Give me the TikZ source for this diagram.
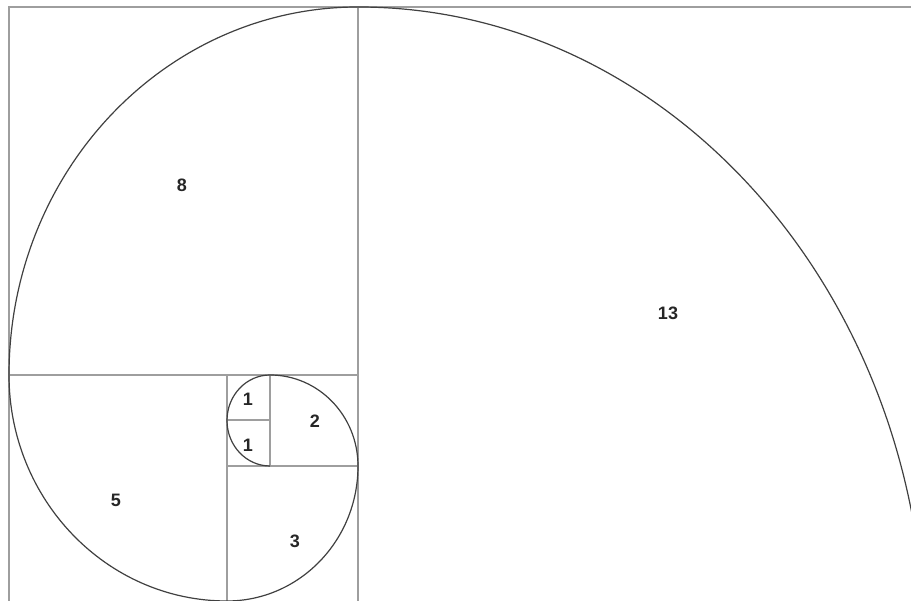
\documentclass[tikz,border=0pt]{standalone}
\usepackage{fontspec}
\setmainfont{Liberation Sans}
\begin{document}
\begin{tikzpicture}[x=1pt,y=1pt,
  gridline/.style={draw=black!38, line width=1.4pt},
  spiral/.style={draw=black!75, line width=1.2pt},
  num/.style={font=\fontsize{18}{18}\selectfont\bfseries, text=black!85, inner sep=0pt}]
\useasboundingbox (0,0) rectangle (911,601);
\fill[white] (0,0) rectangle (911,601);
\clip (0,0) rectangle (911,601);
% frame and squares
\draw[gridline] (9,0) -- (9,594) -- (911,594);
\draw[gridline] (9,226) -- (358,226);
\draw[gridline] (358,594) -- (358,0);
\draw[gridline] (227,226) -- (227,0);
\draw[gridline] (227,135) -- (358,135);
\draw[gridline] (270,226) -- (270,135);
\draw[gridline] (227,181) -- (270,181);
% spiral
\draw[spiral] (270,135)
  arc[start angle=270, end angle=90, x radius=43pt, y radius=45.5pt]
  arc[start angle=90, end angle=0, x radius=88pt, y radius=91pt]
  arc[start angle=0, end angle=-90, x radius=131pt, y radius=135pt]
  arc[start angle=270, end angle=180, x radius=218pt, y radius=226pt]
  arc[start angle=180, end angle=90, x radius=349pt, y radius=368pt]
  arc[start angle=90, end angle=0, x radius=567pt, y radius=645pt];
% labels
\node[num] (n8) at (182,416) {8};
\node[num] (n13) at (668,288) {13};
\node[num] (n5) at (116,101) {5};
\node[num] (n3) at (295,60) {3};
\node[num] (n2) at (315,180) {2};
\node[num] (n1a) at (248,202) {1};
\node[num] (n1b) at (248,156) {1};
\end{tikzpicture}
\end{document}
